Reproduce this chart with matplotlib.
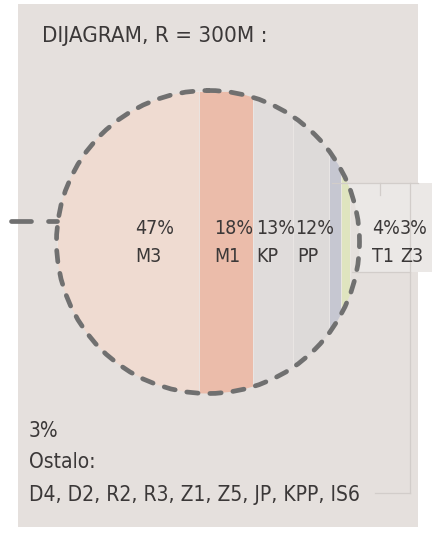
import numpy as np
import matplotlib.pyplot as plt
from matplotlib.patches import Circle, Rectangle

# data
shares = [47, 18, 13, 12, 4, 3, 3]
codes = ["M3", "M1", "KP", "PP", "T1", "Z3", "Ostalo"]
colors = ["#efdbd1", "#ebbcaa", "#e0dcdb", "#dddad9", "#c6c7d1", "#dfe4bf", "#e5e0dd"]
title = "DIJAGRAM, R = 300M :"
other_list = "D4, D2, R2, R3, Z1, Z5, JP, KPP, IS6"

plt.rcParams['font.family'] = ['DejaVu Sans']
plt.rcParams['font.stretch'] = 'condensed'
txt = "#3b3838"

fig = plt.figure(figsize=(4.46, 5.41), dpi=100)
ax = fig.add_axes([0, 0, 1, 1])
ax.set_xlim(0, 446)
ax.set_ylim(541, 0)
ax.axis('off')

# grey panel + lighter label box on the right
ax.add_patch(Rectangle((18, 4), 400, 523, facecolor="#e5e0dd", edgecolor="none"))
ax.add_patch(Rectangle((335, 183), 97, 89, facecolor="#ebe8e6", edgecolor="none"))

# thin bracket lines
lc = "#d2cdca"
ax.plot([332, 418], [183, 183], color=lc, lw=0.9)
ax.plot([380, 380], [183, 195], color=lc, lw=0.9)
ax.plot([352, 410], [272, 272], color=lc, lw=0.9)
ax.plot([410, 410], [183, 493], color=lc, lw=0.9)
ax.plot([375, 410], [493, 493], color=lc, lw=0.9)

# circle split into vertical strips
cx, cy, r = 208, 242, 151.5
clip = Circle((cx, cy), r, transform=ax.transData)
left = cx - r
edges = left + 2 * r * np.concatenate([[0], np.cumsum(shares)]) / 100
for i, c in enumerate(colors):
    p = Rectangle((edges[i], cy - r), edges[i + 1] - edges[i], 2 * r,
                  facecolor=c, edgecolor="#ebe7e5", lw=0.6)
    ax.add_patch(p)
    p.set_clip_path(clip)

ax.add_patch(Circle((cx, cy), r, fill=False, edgecolor="#707070", lw=3.4,
                    linestyle=(0, (2.4, 2.5)), capstyle='round'))

# leader on the left
dash = dict(color="#707070", lw=3.4, solid_capstyle='round')
ax.plot([11, 31], [221, 221], **dash)
ax.plot([48, 57], [221, 221], **dash)

ax.text(42, 36, title, fontsize=16, color=txt, va='center', ha='left')

fs = 14
label_x = [135, 214, 256, 295, 372, 400]
code_x = [135, 214, 256, 297, 372, 400]
for x, xc, s, c in zip(label_x, code_x, shares[:6], codes[:6]):
    ax.text(x, 229, f"{s}%", fontsize=fs, color=txt, ha='left', va='center')
    ax.text(xc, 257, c, fontsize=fs, color=txt, ha='left', va='center')

ax.text(29, 431, f"{shares[6]}%", fontsize=15, color=txt, va='center')
ax.text(29, 462, f"{codes[6]}:", fontsize=15, color=txt, va='center')
ax.text(29, 495, other_list, fontsize=15, color=txt, va='center')

fig.savefig("out.png", dpi=100, facecolor="white")
